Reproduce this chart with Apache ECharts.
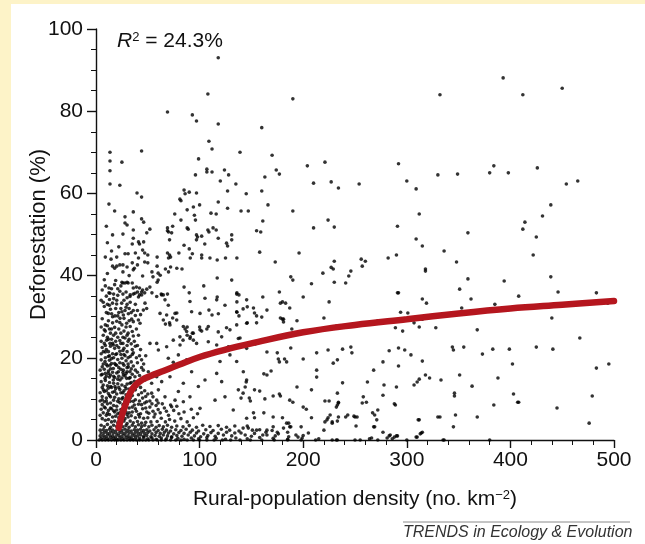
<!DOCTYPE html>
<html>
<head>
<meta charset="utf-8">
<script src="https://cdn.jsdelivr.net/npm/echarts@6/dist/echarts.min.js"></script>
<style>
  html, body { margin: 0; padding: 0; background: #fdf3c8; }
  #chart { width: 645px; height: 544px; }
</style>
</head>
<body>
<div id="chart"></div>
<script>
// axis ticks
const xTicks = [0, 100, 200, 300, 400, 500];
const yTicks = [0, 20, 40, 60, 80, 100];

// fitted curve (rural-population density, deforestation %)
const fitCurve = [[22,3],[25,6],[29,9],[33,11.5],[38,13.3],[45,14.7],[52,15.5],[65,16.8],[80,18.3],[100,20.2],[125,22],[150,23.5],[200,26.2],[250,28],[300,29.4],[350,30.8],[400,32],[450,32.9],[500,33.8]];

// sparse points, upper and right part of the plot
const pointsSparse = [[393,88.1],[332,84],[412,84],[450,85.6],[384,66.7],[380,65],[398,65],[330,64.5],[349,64.7],[426,66.2],[454,62.3],[465,63],[439,57.2],[431,54.5],[414,53],[412,51.3],[359,50.4],[425,49.4],[315,47.2],[336,46],[348,43.3],[318,41.6],[422,45],[359,39.2],[394,38.7],[439,39.7],[351,36.7],[446,36],[483,35.8],[408,35],[362,34.3],
[221,67.6],[227,62.8],[234,61.3],[254,62.3],[292,67.2],[300,63],[309,61.1],[190,83],[160,76],[139,70],[170,69.3],[204,66.7],[174,65.7],[177,64.7],[163,64],[210,62.5],[145,59.9],[160,60.6],[166,57.2],[140,55.7],[147,55.7],[190,55.7],[161,53.3],[224,53.5],[210,51.6],[230,51.8],[312,55],[291,52],[155,50.9],[159,50.6],[309,48.9],[158,45.7],[196,45.5],[173,43.3],[230,43.5],[256,44],[260,43.5],[282,44.3],[290,45],[227,42],[229,41.6],[246,41.1],[219,40.6],[188,39.7],[190,38.9],[244,39.9],[208,38],[230,38.4],[241,38.2],[177,36],[161,34.8],[200,34.8],[291,35.8],[315,34.3],
[257,42.3],[318,41.1],[292,35.8],[225,33.6],[319,33.3],[385,33],[353,32.1],[440,29.7],[494,33.3],[220,29.7],[272,29],[294,31.1],[301,30.9],[315,29.4],[307,28.5],[312,27.5],[289,27.3],[296,26.5],[328,27.3],[368,26.8],[467,24.8],[232,27.7],[224,21.9],[238,22.1],[246,22.6],[247,21.2],[229,18.7],[233,19.5],[283,21.7],[292,22.4],[298,21.9],[304,20.7],[277,19],[292,18],[315,19.2],[344,22.6],[345,21.9],[355,22.6],[373,20.9],[383,22.1],[399,22.1],[425,22.6],[441,22.1],[402,18.5],[483,17.5],[495,18.5],[268,17],[238,13.9],[262,14.1],[278,13.4],[277,10.9],[290,12.9],[307,13.4],[310,14.1],[312,14.8],[318,15.8],[322,15.1],[333,14.6],[351,15.8],[363,13.1],[388,15.1],[233,11.4],[258,10.5],[346,11.4],[346,10.7],[403,11.2],[479,10.7],
[407,9.2],[384,8.5],[445,7.8],[312,4.9],[332,5.6],[347,6.1],[368,5.6],[345,3.2],[314,1.7],[313,1.5],[309,0.7],[476,4.1],[336,0],
[223,4.9],[228,4.4],[233,8.5],[234,9.2],[226,6.1],[220,2.4],[243,6.1],[250,5.6],[251,3.4],[257,9],[267,6.6],[269,6.1],[272,7.3],[268,3.2],[271,4.9],[277,1.9],[284,1.2],[288,0.7],[291,1],[289,8.5],[310,0.7],[311,4.9],[315,1.9],[330,5.6],[408,9.2],[228,0],[233,0],[255,0],[264,0.3],[286,0.3],[335,0]];

// middle band, x 140-300
const pointsMid = [[178,33.3],[187,32.1],[153,30.9],[155,30.2],[160,29.9],[146,28.5],[155,28.5],[180,29.4],[181,28.7],[194,29],[189,27],[142,31.9],[139,24.8],[154,23.4],[165,21.4],[175,21.2],[176,19.7],[177,19],[182,19.7],[184,19],[188,22.4],[200,19.7],[213,21.2],[169,16.8],[162,16.1],[165,15.8],[213,17],[213,15.3],[145,14.1],[144,12.9],[142,11.4],[140,10.2],[153,12.2],[158,11.9],[148,10.2],[149,9.5],[163,10],[171,10.7],[177,11.2],[178,10.7],[187,9.7],[190,9.2],[194,12.9],[208,12.2],[221,9.5],[225,9.5],[234,9],[232,8],[261,9.2],[288,8.8],[152,6.6],[153,5.4],[162,6.6],[171,5.6],[180,5.4],[184,4.1],[187,3.2],[185,1.9],[200,8],[203,7.5],[208,5.4],[198,3.2],[224,5.4],[228,4.1],[221,4.4],[234,5.6],[233,4.6],[241,5.6],[249,5.8],[252,5.6],[269,3.2],[283,1],[290,1],[142,2.9],[146,3.4],[147,2.9],[151,2.4],[140,1.7],[144,1.2],[155,2.4],[165,2.4],[165,1.2],[171,3.2],[175,1.9],[176,1.5],[181,2.9],[186,4.1],[188,3.2],[193,1.2],[195,0.7],[266,0.5],[281,0.5],[232,0],
[180,33.6],[183,33.3],[165,31.6],[178,29.7],[181,29.4],[138,35.3],[136,33.6],[146,32.4],[152,32.1],[136,31.1],[138,30.2]];

// upper left cluster, x 0-140, y 34-95
const pointsUpperLeft = [[118,93],[108,84.2],[69,79.8],[93,79.1],[97,77.6],[118,76.9],[109,72.7],[112,70.8],[13.5,70],[13.5,67.9],[13.5,65.5],[13.5,62.3],[25,67.6],[44,70.3],[23,62],[99,68.4],[107,65.9],[112,65.2],[107,65.2],[124,65.7],[128,64.5],[96,64.5],[120,63],[135,62.3],[127,60.6],[85,60.8],[90,60.3],[97,60.1],[39.6,60.1],[44,59.1],[81,58.6],[86,59.9],
[82,58.2],[12.5,57.4],[18,55.7],[36,55.5],[28,54.3],[28,52.8],[30,52.3],[44,53.8],[46,53],[36,51.1],[52,51.3],[49,50.4],[26,50.1],[16,49.9],[36,49.1],[35,47.7],[41,48.2],[42,47.7],[46,48.2],[45,46.2],[47,45.5],[50,45],[22,47],[15,46],[28,45.3],[31,45.3],[14.5,44],[41,44.3],[16,42.3],[20,42.3],[23,42.6],[26,42.6],[18,41.8],[30,42.1],[35,43.1],[37,41.8],[40,42.6],[47,43.3],[50,43.1],[59,42.3],[26,40.9],[36,41.4],[45,39.9],[54,40.9],[55,39.7],[60,40.6],[62,40.1],[60,38.9],[25,38.4],[26,38.2],[28,38.2],[30,38.4],[31,38.2],[24,37.5],[35,38.2],[39,37.2],[36,37],[40,36],[42,37],[44,36],[45,36.5],[47,35.8],[42,35.3],[41,34.8],[12.5,37],[12.5,35.8],[33,35.3],[36,35.5],[52,37.2],[54,35.8],[63,35.5],[65,35.3],[69,35.5],[49,36.7],[59,38.4],[67,41.6],[70,40.9],[72,42.1],[78,41.8],[83,41.6],[85,37.2],[90,35.8],[104,37.5],[117,39.4],[117,34.8],[131,38.9],[136,35.8],[69,45.5],[71,45],[72,44.5],[70,44.3],[59,44.5],[80,45.5],[85,47.4],[90,46.5],[91,44.3],[93,45.3],[97,48.7],[102,45],[102,44.3],[105,47.7],[110,44.3],[117,43.8],[125,44.3],[126,47.9],[127,47.2],[131,49.9],[131,48.7],[136,44.3],[69,50.9],[70,50.6],[69,51.6],[74,52],[73,50.4],[76,55],[82,53.5],[88,56],[88,51.6],[89,51.3],[94,56.7],[97,49.9],[98,49.4],[100,57.2],[102,49.6],[108,51.1],[109,50.6],[113,51.6],[116,51.1],[111,55.2],[116,55],[118,57.9],[118,49.1],[127,56.4],[95,54.7],[96,53.5],[71,48.7],
[10,52],[11,48],[9,44.5],[11,40.5],[8,39],[19,38.8],[21,36.8],[17,35.5],[29,36],[20,44.5],[32,40],[38,45.5]];

// lower left, x 0-150, y 5-36
const pointsLowerLeft = [[13.5,35.7],[15.9,33.3],[12.9,32.8],[19.9,33.1],[24.8,33.3],[11.9,30.8],[15.1,30.7],[18.3,30.2],[23.2,29.6],[26.4,30.4],[31.2,30.7],[34.4,29.4],[29.6,28.4],[36,28.8],[40.9,29.2],[42.5,28.4],[45.7,31.6],[48.9,32],[47.3,33.3],[44.1,35.3],[37.6,35.7],[32.8,34.9],[58.6,34.9],[63.4,35.3],[66.6,34.1],[69.8,32.8],[61.8,30.8],[68.2,30.4],[76.3,30.8],[71.4,28],[77.9,29.2],[90.7,33.7],[92.3,31.2],[100.4,30.8],[105.2,34.5],[116.5,34.1],[124.5,32.8],[135.8,35.5],[145.4,34.1],[118.1,30.7],[135.8,31.2],[145.4,28.4],[84.3,27.6],[87.5,26.4],[93.9,26],[100.4,26.8],[108.4,27.6],[129.3,26.8],[135.8,28],
[109,31.6],[112,30.4],[100,27.5],[102,26.5],[107,27],[118,26.3],[88,27.5],[86,27],[93,26],[78,30.9],[74,29.7],[71,28.5],[65,29.2],[67,28.2],[81,25.1],[84,24.3],[88,25.5],[91,25.1],[94,24.3],[126,27.3],
[10.3,24.3],[13.5,23.5],[16.7,23.1],[7.1,21.5],[11.9,20.3],[8.7,19.1],[13.5,18.2],[16.7,17.4],[19.9,18.2],[21.6,16.6],[26.4,17],[11.9,16.2],[8.7,15],[16.7,14.6],[23.2,14.6],[26.4,15.8],[31.2,17.8],[32.8,16.6],[29.6,15],[32.8,13.8],[28,13],[18.3,13],[11.9,12.6],[7.1,12.2],[37.6,15.4],[39.2,13],[45.7,17],[50.5,16.6],[47.3,14.6],[53.7,13.8],[58.6,15.4],[63.4,14.2],[66.6,17],[71.4,15.4],[74.6,18.9],[69.8,19.9],[79.5,20.7],[87.5,19.5],[60.2,21.9],[58.6,23.5],[52.1,23.5],[68.2,22.7],[74.6,24.3],[81.1,23.1],[90.7,24.7],[97.1,23.5],[108.4,23.9],[116.5,23.1],[121.3,25.1],[127.8,22.7],[137.4,24.7],[145.4,22.3],[129.3,20.7],[135.8,19.1],[119.7,19.1],[116.5,16.2],[121.3,14.2],[105.2,14.6],[98.8,13],[92.3,16.6],[84.3,13.8],[79.5,11.8],[90.7,10.5],[84.3,9.3],[76.3,9.7],[73,8.1],[66.6,10.5],[60.2,12.2],[58.6,9.7],[53.7,11.4],[48.9,9.3],[100.4,7.7],[114.9,9.7],[124.5,10.5],[137.4,12.2],[145.4,14.6],[142.2,16.6],[132.5,7.3],[145.4,5.3],
[5,34],[8,32.5],[10,35],[11,33],[14,31.8],[17,34.4],[19,32],[21,35.2],[22,31],[24,32],[27,34],[28,31.5],[30,33],[32,32],[34,31],[38,33],[40,31.5],[6,29.5],[9,28],[12,29],[13,27],[16,28.5],[18,27.4],[20,28.9],[22,27],[25,28],[27,26.5],[29,27.5],[31,26],[33,27.6],[35,26.4],[39,27],[7,25.5],[9,26.5],[11,25],[14,26],[15,24.5],[17,25.5],[19,24],[21,25],[23,24.2],[24,26],[26,23.5],[28,24.8],[30,23],[32,24.5],[34,23.4],[37,24],[41,25.5],[6,22.5],[8,23.5],[10,22],[12,21.5],[14,22.8],[16,21],[18,22.3],[20,21],[22,22.5],[24,20.8],[26,21.8],[28,20.5],[30,21.5],[33,20.3],[36,21.2],[39,20],[43,22],[5,19.5],[7,18.5],[9,20],[11,18],[13,19.4],[15,18.6],[17,20],[19,18.3],[21,19.6],[23,18.8],[25,19.9],[27,18.2],[29,19.3],[31,18.5],[34,19],[36,18],[40,18.8],[44,19.5],[48,20.5],
[4,17],[6,16],[8,17.2],[10,15.5],[12,16.8],[14,15.8],[16,16.5],[18,15.2],[20,16.3],[22,15.5],[24,17.2],[26,16.4],[28,15.6],[30,16.6],[33,15.2],[35,16],[38,17],[42,15.7],[44,17.6],[5,14.2],[7,13.4],[9,14.5],[11,13.2],[13,14],[15,12.8],[17,13.8],[19,12.5],[21,13.7],[23,12.3],[25,13.4],[27,12],[30,13.6],[32,12.4],[34,14],[36,12.2],[40,13.5],[43,12.8],[47,12],[4,11.5],[6,10.6],[8,11.8],[10,10.2],[12,11.3],[14,10.5],[16,11.6],[18,10.4],[20,11.2],[22,10],[24,11.5],[26,10.3],[29,11],[31,10],[35,10.8],[38,9.8],[41,11],[45,10.2],[50,11.2],[55,10.5]];

// extra points in the densest part, x 0-60
const pointsDenseExtra = [[6,36.5],[9,37.5],[15,36.8],[18,37.8],[23,36.2],[26,35.5],[30,34.6],[7,33.5],[13,34.2],[20,34],[25,31.2],[29,32.3],[33,33.5],[36,31.5],[10,31],[16,30],[21,30.2],[27,29.6],[32,29],[38,30.3],[43,30.5],[5,27.5],[8,26.8],[11,27.8],[15,27],[19,26],[23,28.6],[26,25],[30,25.5],[36,25.3],[40,23],
[5,24],[9,23],[12,24.5],[16,23.5],[20,23],[24,23.5],[27,22.3],[31,24],[35,22],[38,22.8],[5,21],[9,21.4],[13,20.5],[15,19.8],[19,20.8],[23,21.6],[27,20.8],[31,20],[35,20.8],[42,20.5],[6,17.8],[10,18.4],[14,17.3],[18,18.6],[22,17.6],[26,18.6],[30,17.6],[34,17.3],[40,16.5],[46,18.5],[5,15.8],[9,16.2],[13,15.3],[17,15.5],[21,14.8],[25,15.1],[29,16.2],[32,15],[37,14.3],[42,14.2],
[6,12.8],[10,12],[14,13],[18,11.8],[22,12.8],[26,11.5],[29,12.5],[34,11.5],[38,12.2],[44,11.5],[6,9.8],[10,9.5],[13,10.8],[17,9.7],[21,9.4],[25,10],[28,9.4],[33,10.2],[36,9.4],[42,9.5],[48,10.6],[52,9.5],[60,9],[5,7.5],[8,8],[11,6.5],[14,7.8],[17,7.1],[20,7.3],[23,6.6],[26,7.2],[29,6.8],[32,6.6],[35,8],[38,7.6],[41,6.2],[44,8.6],[48,7.8],[51,6.5],[54,8.8],[57,6.3],[60,7.4],[64,8.8],[68,7],[72,8.5],[78,8.2],[85,6.8],[92,7.5],[98,6.4]];

// bottom band, y 0-10
const pointsBottom = [[4,9.5],[6,8.6],[8,9.3],[9,7.8],[11,8.8],[12,7.2],[14,9],[15,7.6],[17,8.4],[18,6.8],[20,8.2],[21,6.4],[23,9.1],[24,7.4],[26,8.6],[27,6.6],[29,8],[30,6.2],[32,7.8],[33,9.4],[35,6.8],[37,8.5],[39,7],[41,8.7],[43,6.4],[45,7.6],[47,9],[49,6.8],[52,8],[55,7],[58,8.4],[62,6.6],[66,7.8],[70,6],[75,7.2],[80,6.4],
[4,6],[6,5.2],[7,6.6],[9,4.8],[10,6],[12,5],[13,6.2],[15,4.4],[16,5.6],[18,4.6],[19,5.8],[21,4.2],[22,5.4],[24,4.4],[25,5.8],[27,4.6],[28,5.2],[30,4],[31,5.6],[33,4.6],[34,5.9],[36,4.2],[38,5.4],[40,4.5],[42,5.6],[44,4.1],[46,5.3],[48,4.3],[50,5.4],[53,4.4],[56,5.6],[59,4.5],[63,5.3],[67,4.4],[71,5],[76,4.6],[82,5.2],[88,4.4],[94,5.4],
[5,3.6],[8,3.2],[11,3.8],[14,3.1],[17,3.6],[20,3.3],[23,3.7],[26,3.2],[29,3.5],[32,3.1],[35,3.6],[38,3.2],[41,3.7],[44,3.3],[47,3.6],[51,3.2],[54,3.6],[58,3.1],[61,3.5],[65,3.2],[69,3.6],[73,3.1],[78,3.4],[84,3.2],[90,3.5],[97,3.1],[103,3.6],[110,3.3],[118,3.5],[126,3.1],[134,3.4],
[4,2.4],[7,2.5],[10,2.3],[13,2.6],[16,2.4],[19,2.2],[22,2.5],[25,2.3],[28,2.6],[31,2.4],[34,2.2],[37,2.5],[40,2.4],[43,2.6],[46,2.3],[49,2.5],[52,2.2],[56,2.5],[60,2.3],[64,2.6],[68,2.4],[72,2.2],[77,2.5],[82,2.3],[87,2.6],[93,2.4],[99,2.2],[106,2.5],[113,2.3],[121,2.6],[129,2.4],[138,2.2],[158,2.5],[170,2.3],
[5,1.7],[8,1.8],[11,1.6],[14,1.9],[17,1.7],[20,1.5],[23,1.8],[26,1.6],[29,1.9],[32,1.7],[35,1.5],[38,1.8],[41,1.7],[44,1.9],[47,1.6],[50,1.8],[54,1.5],[58,1.8],[62,1.6],[66,1.9],[70,1.7],[75,1.5],[80,1.8],[85,1.6],[91,1.9],[97,1.7],[104,1.5],[111,1.8],[118,1.6],[126,1.9],[134,1.7],[153,1.6],[164,1.9],[205,1.7],
[4,1],[7,1.1],[10,0.9],[13,1.2],[16,1],[19,0.8],[22,1.1],[25,0.9],[28,1.2],[31,1],[34,0.8],[37,1.1],[40,1],[43,1.2],[46,0.9],[49,1.1],[53,0.8],[57,1.1],[61,0.9],[65,1.2],[69,1],[73,0.8],[78,1.1],[83,0.9],[89,1.2],[95,1],[101,0.8],[108,1.1],[115,0.9],[123,1.2],[131,1],[150,0.9],[161,1.2],[173,1],[186,0.8],[200,1.1],
[5,0.4],[8,0.5],[11,0.3],[14,0.6],[17,0.4],[20,0.2],[23,0.5],[26,0.3],[29,0.6],[32,0.4],[35,0.2],[38,0.5],[42,0.4],[46,0.6],[50,0.3],[54,0.5],[58,0.2],[63,0.5],[68,0.3],[73,0.6],[79,0.4],[85,0.2],[92,0.5],[99,0.3],[107,0.6],[116,0.4],[125,0.2],[135,0.5],[146,0.3],[158,0.6],[171,0.4],[185,0.2],[199,0.5],[215,0.3],
[3,0],[6,0],[9,0],[12,0],[15,0],[18,0],[21,0],[24,0],[27,0],[30,0],[33,0],[36,0],[39,0],[42,0],[45,0],[48,0],[51,0],[55,0],[59,0],[63,0],[67,0],[72,0],[77,0],[82,0],[88,0],[94,0],[100,0],[107,0],[114,0],[122,0],[130,0],[139,0],[149,0],[160,0],[172,0],[185,0],[198,0],[212,0],[250,0],[272,0],[300,0],[380,0]];

const scatterData = [].concat(pointsSparse, pointsMid, pointsUpperLeft, pointsLowerLeft, pointsDenseExtra, pointsBottom);

const chart = echarts.init(document.getElementById('chart'));
const font = '"Liberation Sans", Arial, Helvetica, sans-serif';
const ink = '#111111';

chart.setOption({
  backgroundColor: '#fdf3c8',
  animation: false,
  textStyle: { fontFamily: font, color: ink },
  graphic: [
    { type: 'rect', z: -10, silent: true, shape: { x: 11, y: 4, width: 634, height: 540 }, style: { fill: '#ffffff' } },
    {
      type: 'text', left: 117, top: 31, z: 10,
      style: {
        text: '{i|R}{s|2}{n| = 24.3%}',
        rich: {
          i: { fontFamily: font, fontStyle: 'italic', fontSize: 21, fill: ink },
          s: { fontFamily: font, fontSize: 13, fill: ink, verticalAlign: 'top', lineHeight: 13 },
          n: { fontFamily: font, fontSize: 21, fill: ink }
        }
      }
    },
    { type: 'line', z: 10, shape: { x1: 403, y1: 522, x2: 630, y2: 522 }, style: { stroke: '#8a8a8a', lineWidth: 1 } },
    {
      type: 'text', left: 403, top: 525, z: 10,
      style: { text: 'TRENDS in Ecology & Evolution', fontFamily: font, fontStyle: 'italic', fontSize: 16, fill: '#333' }
    }
  ],
  grid: { left: 96, right: 31, top: 29, bottom: 104, containLabel: false },
  xAxis: {
    type: 'value',
    min: xTicks[0], max: xTicks[xTicks.length - 1], interval: 100,
    name: 'Rural-population density (no. km{sup|−2})',
    nameLocation: 'middle', nameGap: 49,
    nameMoveOverlap: false,
    nameTextStyle: {
      fontFamily: font, fontSize: 21, color: ink,
      rich: { sup: { fontFamily: font, fontSize: 13, color: ink, verticalAlign: 'top', lineHeight: 13 } }
    },
    axisLine: { lineStyle: { color: ink, width: 1.4 } },
    axisTick: { length: 8, lineStyle: { color: ink, width: 1.4 } },
    minorTick: { show: true, splitNumber: 5, length: 5, lineStyle: { color: ink, width: 1 } },
    splitLine: { show: false },
    axisLabel: { fontFamily: font, fontSize: 21, color: ink, margin: 10 }
  },
  yAxis: {
    type: 'value',
    min: yTicks[0], max: yTicks[yTicks.length - 1], interval: 20,
    name: 'Deforestation (%)',
    nameLocation: 'middle', nameGap: 46,
    nameMoveOverlap: false,
    nameTextStyle: { fontFamily: font, fontSize: 22, color: ink },
    axisLine: { show: true, lineStyle: { color: ink, width: 1.4 } },
    axisTick: { show: true, length: 9, lineStyle: { color: ink, width: 1.4 } },
    minorTick: { show: true, splitNumber: 4, length: 5, lineStyle: { color: ink, width: 1 } },
    splitLine: { show: false },
    axisLabel: { fontFamily: font, fontSize: 21, color: ink, margin: 13 }
  },
  series: [
    {
      type: 'scatter',
      data: scatterData,
      symbol: 'circle',
      symbolSize: 3.6,
      itemStyle: { color: '#000' },
      silent: true,
      z: 2
    },
    {
      type: 'line',
      data: fitCurve,
      smooth: 0.4,
      showSymbol: false,
      lineStyle: { color: '#b5161e', width: 6.5, cap: 'round' },
      silent: true,
      z: 3
    }
  ]
});
</script>
</body>
</html>
